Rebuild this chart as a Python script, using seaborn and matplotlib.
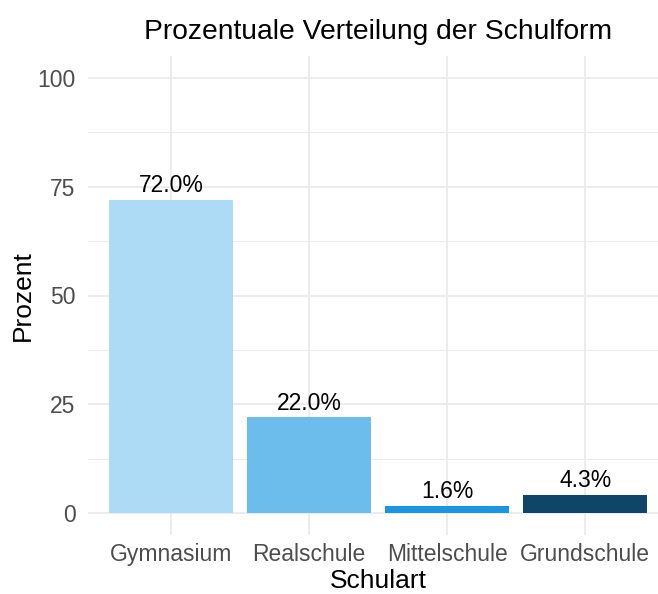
import seaborn as sns
import pandas as pd
import matplotlib.pyplot as plt
from matplotlib.ticker import MultipleLocator

schulart = ['Gymnasium', 'Realschule', 'Mittelschule', 'Grundschule']
prozent = [72.0, 22.0, 1.6, 4.3]
farben = ['#ADDAF5', '#6CBCEC', '#1B96E0', '#0F4569']

df = pd.DataFrame({'Schulart': schulart, 'Prozent': prozent})

sns.set_theme(style='whitegrid')
plt.rcParams['font.family'] = ['Liberation Sans', 'DejaVu Sans']

fig = plt.figure(figsize=(6.58, 5.94), dpi=100)
ax = fig.add_axes([88/658, 59/594, 580/658, 479/594])

sns.barplot(data=df, x='Schulart', y='Prozent', hue='Schulart', palette=farben,
            legend=False, width=0.9, saturation=1, edgecolor='none', ax=ax)

for c in ax.containers:
    ax.bar_label(c, fmt='%.1f%%', padding=2, fontsize=16.5, color='black')

ax.set_xlim(-0.6, 3.6)
ax.set_ylim(-5, 105)
ax.yaxis.set_major_locator(MultipleLocator(25))
ax.yaxis.set_minor_locator(MultipleLocator(12.5))
ax.set_yticks([0, 25, 50, 75, 100])

ax.set_facecolor('white')
for s in ax.spines.values():
    s.set_visible(False)
ax.grid(which='major', color='#EBEBEB', linewidth=1.3)
ax.grid(which='minor', axis='y', color='#EBEBEB', linewidth=0.7)
ax.set_axisbelow(True)
ax.tick_params(axis='both', which='both', length=0, labelsize=16.5, labelcolor='#4D4D4D')
ax.tick_params(axis='y', pad=9)
ax.tick_params(axis='x', pad=6)

ax.set_xlabel('Schulart', fontsize=19, color='black', labelpad=2)
ax.set_ylabel('Prozent', fontsize=19, color='black', labelpad=1.5)
ax.set_title('Prozentuale Verteilung der Schulform', fontsize=20.3, color='black', pad=12)

fig.savefig('out.png', dpi=100)
